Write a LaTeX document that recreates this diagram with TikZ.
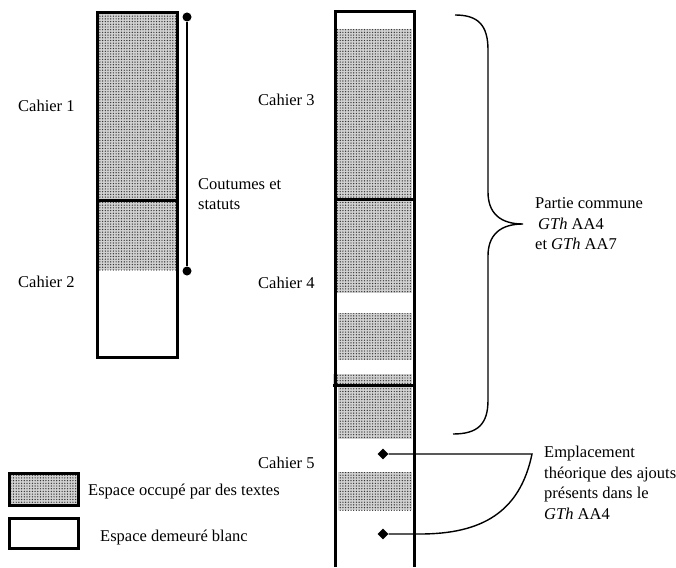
\documentclass[tikz,border=0pt]{standalone}
\usepackage{fontspec}
\setmainfont{Liberation Serif}
\usetikzlibrary{patterns, shapes.geometric}

\pgfdeclarepatternformonly{points}{\pgfqpoint{-1pt}{-1pt}}{\pgfqpoint{1pt}{1pt}}{\pgfqpoint{2.7pt}{2.7pt}}{%
    \pgfpathcircle{\pgfqpoint{0pt}{0pt}}{0.7pt}%
    \pgfusepath{fill}%
}

\begin{document}
\begin{tikzpicture}[x = 1pt, y = -1pt]
    \tikzset{
        texte/.style = {
            preaction = {fill = black!18},
            pattern = points,
            pattern color = black!80
        },
        cadre/.style = {
            draw,
            line width = 3pt
        },
        lien/.style = {
            line width = 1.4pt
        },
        etiquette/.style = {
            anchor = west,
            inner sep = 0pt,
            align = left,
            font = \fontsize{16.5}{20.5}\selectfont
        },
        point/.style = {
            circle,
            fill,
            inner sep = 0pt,
            minimum size = 9pt
        },
        losange/.style = {
            diamond,
            fill,
            inner sep = 0pt,
            minimum size = 11pt
        }
    }

    \useasboundingbox (0, 0) rectangle (676, 567);

    % premiere colonne
    \fill[texte] (97, 13) rectangle (177, 270);
    \draw[cadre] (97, 13) rectangle (177, 357);
    \draw[cadre] (97, 200) -- (177, 200);

    % seconde colonne
    \foreach \h/\b/\g in {29/293/336, 313/360/338, 374/385/333, 385/439/338, 472/510/338}{
        \fill[texte] (\g, \h) rectangle (412, \b);
    }
    \draw[cadre] (335, 567) -- (335, 12) -- (414, 12) -- (414, 567);
    \draw[cadre] (335, 199) -- (414, 199);
    \draw[cadre] (333, 385) -- (414, 385);

    \foreach \n/\x/\y in {1/18/106, 2/18/282, 3/258/100, 4/258/283, 5/258/463}{
        \node[etiquette] (cahier\n) at (\x, \y) {Cahier \n};
    }

    % coutumes
    \node[point] (haut) at (187, 17) {};
    \node[point] (bas) at (187, 271) {};
    \draw[lien] (haut) -- (bas);
    \node[etiquette] (coutumes) at (198, 194) {Coutumes et\\statuts};

    % accolade
    \draw[lien] (455, 15) .. controls (478, 15) and (488, 25) .. (488, 50)
        -- (488, 192) .. controls (488, 213) and (500, 224) .. (523, 224)
        .. controls (500, 224) and (488, 235) .. (488, 256)
        -- (488, 400) .. controls (488, 424) and (478, 434) .. (453, 434);
    \node[etiquette] (partie) at (535, 224) {Partie commune\\\hspace{3pt}\textit{GTh} AA4\\et \textit{GTh} AA7};

    % ajouts
    \node[losange] (ajout1) at (383, 454) {};
    \node[losange] (ajout2) at (383, 534) {};
    \draw[lien] (ajout1) -- (532, 454) .. controls (520, 512) and (482, 534) .. (420, 534) -- (ajout2);
    \node[etiquette] (emplacement) at (544, 483) {Emplacement\\théorique des ajouts\\présents dans le\\\textit{GTh} AA4};

    % legende
    \draw[cadre, texte] (9, 473) rectangle (78, 505);
    \node[etiquette] (occupe) at (88, 492) {Espace occupé par des textes};
    \draw[cadre] (9, 518) rectangle (78, 548);
    \node[etiquette] (blanc) at (100, 538) {Espace demeuré blanc};

\end{tikzpicture}
\end{document}
